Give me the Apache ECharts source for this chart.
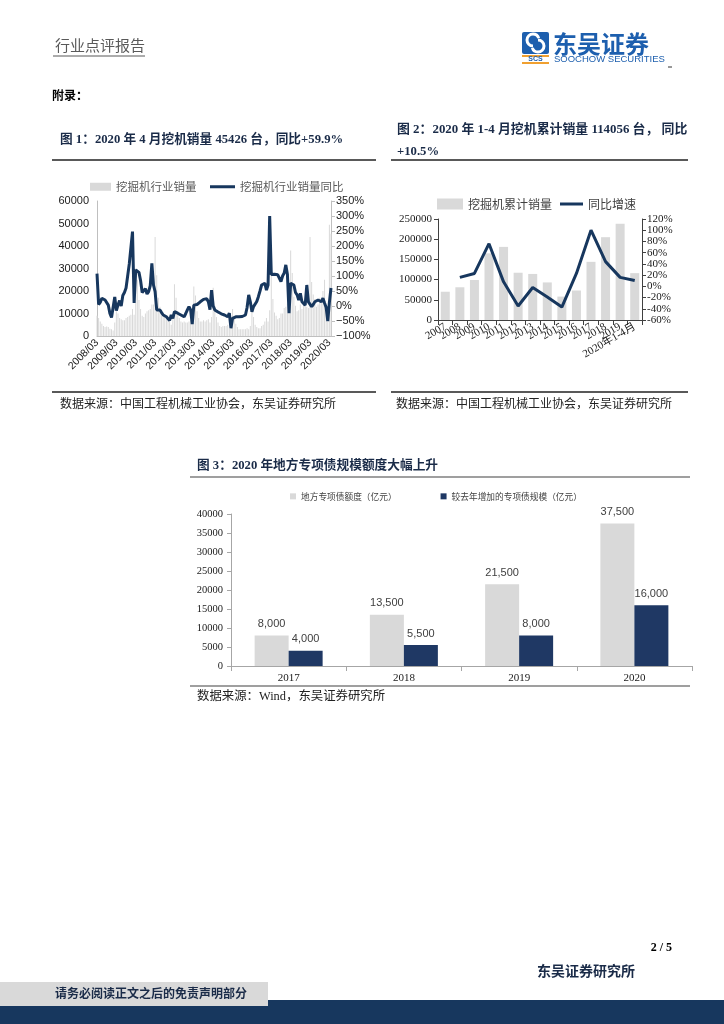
<!DOCTYPE html>
<html><head><meta charset="utf-8">
<script src="https://cdn.jsdelivr.net/npm/echarts@6/dist/echarts.min.js"></script>
<style>html,body{margin:0;padding:0;background:#fff}#c{width:724px;height:1024px}</style>
</head><body><div id="c"></div>
<script>
// ---------- Figure 1: monthly excavator sales (2008/03 - 2020/04) ----------
const sales1 = [
  9000, 8000, 6500, 5500, 4500, 4000, 4200, 4000, 3200, 3000,
  2500, 6000, 11000, 10000, 8000, 7500, 7000, 7000, 8000, 8500, 9000, 9500,
  12000, 9500, 30000, 25000, 16000, 12000, 9000, 8500, 10000, 11000, 11500, 12000,
  14000, 14000, 44000, 27000, 17000, 13000, 9000, 8500, 9000, 8000, 7000, 6500,
  5000, 10000, 23000, 17000, 11000, 8000, 6500, 6000, 6500, 6000, 6000, 6500,
  7000, 6000, 22000, 18000, 11000, 8000, 6500, 6500, 7000, 6500, 7000, 7500,
  6000, 8500, 21500, 13500, 8500, 6000, 4500, 4000, 4500, 4500, 4500, 5000,
  3500, 4000, 12000, 9000, 5500, 4000, 3000, 3000, 3000, 3000, 3000, 3500,
  3000, 4500, 13500, 8500, 5000, 4000, 3500, 3500, 4500, 5000, 6500, 8000,
  6500, 11500, 30000, 16500, 10500, 9000, 7500, 8000, 10000, 10000, 12500, 13000,
  14500, 10000, 38000, 28000, 17500, 13500, 11000, 11500, 14000, 12000, 14000, 17000,
  13000, 12500, 44000, 24000, 18500, 16500, 13000, 14000, 17000, 16500, 20000, 25000,
  12900, 6300, 49408, 45426
];
const yoy1 = [
  108, 5, 12, 26, 22, 20, 14, 3, -25, -38,
  -43, 30, -15, 3, 18, 0, 35, 45, 60, 100, 140, 135,
  248, 10, 120, 116, 112, 85, 45, 45, 58, 40, 48, 68,
  142, 70, 48, -13, -13, -13, -22, -30, -33, -36, -42, -48,
  -30, -41, -19, -22, -24, -27, -30, -33, -36, -25, -13, -2,
  -12, -60, 3, 4, 5, 9, 14, 20, 22, 26, 24, 14,
  -12, 53, 0, -13, -19, -20, -24, -26, -28, -30, -33, -36,
  -24, -74, -41, -38, -36, -36, -36, -36, -35, -32, -30, -5,
  37, 14, -19, -2, 3, 15, 31, 50, 70, 72, 76, 53,
  70, 300, 105, 103, 106, 109, 104, 98, 81, 100, 110, 137,
  105, -24, 76, 72, 70, 45, 37, 20, 42, 14, 8, 3,
  70, 14, 10, -2, 5, 14, 18, 20, 16, 14, 26, 10,
  -5, -50, 12, 60
];
const months1 = [];
for (let i = 0; i < sales1.length; i++) {
  const t = 2008 * 12 + 2 + i;
  const y = Math.floor(t / 12), m = t % 12 + 1;
  months1.push(y + '/' + (m < 10 ? '0' + m : m));
}

// ---------- Figure 2: annual cumulative sales ----------
const years2 = ['2007','2008','2009','2010','2011','2012','2013','2014','2015','2016','2017','2018','2019','2020年1-4月'];
const sales2 = [70000, 81000, 99000, 165000, 181000, 117000, 114000, 93000, 58000, 73000, 144000, 205000, 238000, 116000];
const yoy2 = [null, 16, 23, 76, 8, -35, -2, -19, -37, 23, 100, 44, 16, 10.5];

// ---------- Figure 3: local special bonds ----------
const years3 = ['2017','2018','2019','2020'];
const quota3 = [8000, 13500, 21500, 37500];
const increase3 = [4000, 5500, 8000, 16000];

const SERIF = "'Liberation Serif','Noto Sans CJK SC',serif";
const SANS = "'Liberation Sans','Noto Sans CJK SC',sans-serif";
const CJK = "'Noto Sans CJK SC',sans-serif";
const NAVY = '#17375e';
const GRAY = '#d9d9d9';
const TITLE = '#1a2b48';
const pct = v => (v < 0 ? '\u2212' + Math.abs(v) : v) + '%';
const plain = v => String(v);

function txt(x, y, text, font, fill, align) {
  return { type: 'text', x: x, y: y, silent: true,
    style: { text: text, font: font, fill: fill || '#000', align: align || 'left', verticalAlign: 'middle' } };
}
function hline(x1, x2, y, color, w) {
  return { type: 'line', silent: true, shape: { x1: x1, y1: y, x2: x2, y2: y }, style: { stroke: color, lineWidth: w } };
}
function rect(x, y, w, h, fill) {
  return { type: 'rect', silent: true, shape: { x: x, y: y, width: w, height: h }, style: { fill: fill } };
}

const graphics = [
  // header
  txt(55, 45, '行业点评报告', "15px " + CJK, '#595959'),
  hline(53, 145, 56, '#595959', 1),
  { type: 'rect', silent: true, shape: { x: 522, y: 32, width: 27, height: 22, r: 2 }, style: { fill: '#1d5fae' } },
  { type: 'arc', silent: true, shape: { cx: 533, cy: 40, r: 6, startAngle: Math.PI * 0.5, endAngle: Math.PI * 1.9 }, style: { stroke: '#fff', lineWidth: 3, fill: 'none' } },
  { type: 'arc', silent: true, shape: { cx: 538, cy: 46, r: 6, startAngle: -Math.PI * 0.5, endAngle: Math.PI * 0.9 }, style: { stroke: '#fff', lineWidth: 3, fill: 'none' } },
  rect(522, 55, 27, 2, '#f0a030'),
  txt(535.5, 59.5, 'SCS', "bold 7px 'Liberation Sans'", '#1d5fae', 'center'),
  rect(522, 62, 27, 2, '#f0a030'),
  txt(553, 44, '东吴证券', "bold 24px " + CJK, '#1d5fae'),
  txt(554, 59, 'SOOCHOW SECURITIES', "9.5px 'Liberation Sans'", '#1d5fae'),
  hline(668, 672, 67, '#333', 1),
  txt(52, 97, '附录：', "bold 12px " + SERIF, '#000'),
  // figure titles
  txt(60, 140, '图 1：2020 年 4 月挖机销量 45426 台，同比+59.9%', "bold 12.7px " + SERIF, TITLE),
  txt(397, 130, '图 2：2020 年 1-4 月挖机累计销量 114056 台， 同比', "bold 12.9px " + SERIF, TITLE),
  txt(397, 152, '+10.5%', "bold 12.7px " + SERIF, TITLE),
  hline(52, 376, 160, '#595959', 2),
  hline(391, 688, 160, '#595959', 2),
  hline(52, 376, 392, '#595959', 2),
  hline(391, 688, 392, '#595959', 2),
  txt(60, 405, '数据来源：中国工程机械工业协会，东吴证券研究所', "12px " + SERIF, '#222'),
  txt(396, 405, '数据来源：中国工程机械工业协会，东吴证券研究所', "12px " + SERIF, '#222'),
  txt(197, 466, '图 3：2020 年地方专项债规模额度大幅上升', "bold 12.7px " + SERIF, TITLE),
  hline(190, 690, 477, '#7f7f7f', 1.5),
  hline(190, 690, 686, '#7f7f7f', 1.5),
  txt(197, 697, '数据来源：Wind，东吴证券研究所', "12.4px " + SERIF, '#222'),
  // footer
  txt(672, 948, '2 / 5', "bold 12px " + SERIF, '#000', 'right'),
  txt(537, 971, '东吴证券研究所', "bold 14px " + CJK, TITLE),
  rect(0, 1000, 724, 24, NAVY),
  rect(0, 982, 268, 24, '#d9d9d9'),
  txt(55, 993, '请务必阅读正文之后的免责声明部分', "bold 12px " + CJK, TITLE)
];

const axisLab = (font, size) => ({ fontFamily: font, fontSize: size, color: '#1a1a1a' });
const leg1Text = { fontFamily: CJK, fontSize: 11.5, color: '#595959' };
const leg2Text = { fontFamily: CJK, fontSize: 12, color: '#404040' };

const option = {
  animation: false,
  backgroundColor: '#fff',
  graphic: graphics,
  legend: [
    { left: 90, top: 181, padding: 0, itemWidth: 21, itemHeight: 8, icon: 'rect',
      textStyle: leg1Text, data: ['挖掘机行业销量'] },
    { left: 210, top: 181, padding: 0, itemWidth: 25, itemHeight: 3, icon: 'rect',
      textStyle: leg1Text, data: ['挖掘机行业销量同比'] },
    { left: 437, top: 198, padding: 0, itemWidth: 26, itemHeight: 11, icon: 'rect',
      textStyle: leg2Text, data: ['挖掘机累计销量'] },
    { left: 560, top: 198, padding: 0, itemWidth: 23, itemHeight: 3, icon: 'rect',
      textStyle: leg2Text, data: ['同比增速'] },
    { left: 290, top: 492, padding: 0, itemWidth: 6, itemHeight: 6, itemGap: 44, icon: 'rect',
      textStyle: { fontFamily: CJK, fontSize: 8.7, color: '#404040' },
      data: ['地方专项债额度（亿元）', '较去年增加的专项债规模（亿元）'] }
  ],
  grid: [
    { left: 97, top: 201, width: 234, height: 135 },
    { left: 438, top: 219, width: 204, height: 101 },
    { left: 231, top: 514, width: 461, height: 152 }
  ],
  xAxis: [
    { type: 'category', gridIndex: 0, data: months1, boundaryGap: false,
      axisLine: { lineStyle: { color: '#bfbfbf' } }, axisTick: { show: false },
      axisLabel: Object.assign({ interval: 11, rotate: 45, margin: 5 }, axisLab(SANS, 10.5)) },
    { type: 'category', gridIndex: 1, data: years2,
      axisLine: { lineStyle: { color: '#404040' } }, axisTick: { show: true, lineStyle: { color: '#404040' } },
      axisLabel: Object.assign({ interval: 0, rotate: 30, margin: 6 }, axisLab(SERIF, 11)) },
    { type: 'category', gridIndex: 2, data: years3,
      axisLine: { lineStyle: { color: '#a6a6a6' } }, axisTick: { show: true, lineStyle: { color: '#a6a6a6' } },
      axisLabel: Object.assign({ margin: 7 }, axisLab(SERIF, 11)) }
  ],
  yAxis: [
    { type: 'value', gridIndex: 0, min: 0, max: 60000, interval: 10000, splitLine: { show: false },
      axisLine: { show: true, lineStyle: { color: '#bfbfbf' } }, axisTick: { show: false },
      axisLabel: Object.assign({ margin: 8, formatter: plain }, axisLab(SANS, 11)) },
    { type: 'value', gridIndex: 0, position: 'right', min: -100, max: 350, interval: 50, splitLine: { show: false },
      axisLine: { show: true, lineStyle: { color: '#bfbfbf' } }, axisTick: { show: true, length: 4, lineStyle: { color: '#bfbfbf' } },
      axisLabel: Object.assign({ margin: 5, formatter: pct }, axisLab(SANS, 11)) },
    { type: 'value', gridIndex: 1, min: 0, max: 250000, interval: 50000, splitLine: { show: false },
      axisLine: { show: true, lineStyle: { color: '#404040' } }, axisTick: { show: true, length: 4, lineStyle: { color: '#404040' } },
      axisLabel: Object.assign({ margin: 6, formatter: plain }, axisLab(SERIF, 11)) },
    { type: 'value', gridIndex: 1, position: 'right', min: -60, max: 120, interval: 20, splitLine: { show: false },
      axisLine: { show: true, lineStyle: { color: '#404040' } }, axisTick: { show: true, length: 4, lineStyle: { color: '#404040' } },
      axisLabel: Object.assign({ margin: 5, formatter: '{value}%' }, axisLab(SERIF, 11)) },
    { type: 'value', gridIndex: 2, min: 0, max: 40000, interval: 5000, splitLine: { show: false },
      axisLine: { show: true, lineStyle: { color: '#a6a6a6' } }, axisTick: { show: true, length: 4, lineStyle: { color: '#a6a6a6' } },
      axisLabel: Object.assign({ margin: 8, formatter: plain }, axisLab(SERIF, 10.5)) }
  ],
  series: [
    { name: '挖掘机行业销量', type: 'bar', xAxisIndex: 0, yAxisIndex: 0, data: sales1, barWidth: 1,
      itemStyle: { color: GRAY } },
    { name: '挖掘机行业销量同比', type: 'line', xAxisIndex: 0, yAxisIndex: 1, data: yoy1, symbol: 'none',
      lineStyle: { color: NAVY, width: 3 }, itemStyle: { color: NAVY } },
    { name: '挖掘机累计销量', type: 'bar', xAxisIndex: 1, yAxisIndex: 2, data: sales2, barWidth: 9,
      itemStyle: { color: GRAY } },
    { name: '同比增速', type: 'line', xAxisIndex: 1, yAxisIndex: 3, data: yoy2, symbol: 'none',
      lineStyle: { color: NAVY, width: 3 }, itemStyle: { color: NAVY } },
    { name: '地方专项债额度（亿元）', type: 'bar', xAxisIndex: 2, yAxisIndex: 4, data: quota3,
      barWidth: 34, barGap: '0%', itemStyle: { color: GRAY },
      label: { show: true, position: 'top', distance: 6, fontFamily: "'Liberation Sans'", fontSize: 11, color: '#404040',
        formatter: p => p.value.toLocaleString('en-US') } },
    { name: '较去年增加的专项债规模（亿元）', type: 'bar', xAxisIndex: 2, yAxisIndex: 4, data: increase3,
      barWidth: 34, barGap: '0%', itemStyle: { color: '#1f3864' },
      label: { show: true, position: 'top', distance: 6, fontFamily: "'Liberation Sans'", fontSize: 11, color: '#404040',
        formatter: p => p.value.toLocaleString('en-US') } }
  ]
};
const chart = echarts.init(document.getElementById('c'), null, { renderer: 'canvas' });
chart.setOption(option);
</script></body></html>
